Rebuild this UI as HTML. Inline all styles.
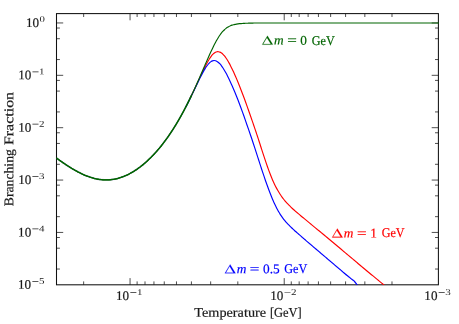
<!DOCTYPE html>
<html><head><meta charset="utf-8"><style>
html,body{margin:0;padding:0;background:#fff;}
svg{display:block;}
text{font-family:"Liberation Serif",serif;}
.t{font-size:13.1px;fill:#1a1a1a;stroke:#1a1a1a;stroke-width:0.2px;}
.s{font-size:8.8px;fill:#1a1a1a;}
.l{font-size:13.3px;stroke-width:0.2px;}
</style></head><body>
<svg width="459" height="324" viewBox="0 0 459 324">
<rect width="459" height="324" fill="#fff"/>
<defs><clipPath id="cp"><rect x="55.90" y="13.00" width="383.20" height="272.10"/></clipPath></defs>
<path d="M130.06 284.80v-6.70 M130.06 13.60v6.70 M284.23 284.80v-6.70 M284.23 13.60v6.70 M83.65 284.80v-3.40 M83.65 13.60v3.40 M237.82 284.80v-3.40 M237.82 13.60v3.40 M210.67 284.80v-3.40 M210.67 13.60v3.40 M191.41 284.80v-3.40 M191.41 13.60v3.40 M176.47 284.80v-3.40 M176.47 13.60v3.40 M164.26 284.80v-3.40 M164.26 13.60v3.40 M153.94 284.80v-3.40 M153.94 13.60v3.40 M145.00 284.80v-3.40 M145.00 13.60v3.40 M137.11 284.80v-3.40 M137.11 13.60v3.40 M391.99 284.80v-3.40 M391.99 13.60v3.40 M364.84 284.80v-3.40 M364.84 13.60v3.40 M345.58 284.80v-3.40 M345.58 13.60v3.40 M330.64 284.80v-3.40 M330.64 13.60v3.40 M318.43 284.80v-3.40 M318.43 13.60v3.40 M308.11 284.80v-3.40 M308.11 13.60v3.40 M299.17 284.80v-3.40 M299.17 13.60v3.40 M291.28 284.80v-3.40 M291.28 13.60v3.40 M56.50 22.95h6.70 M438.40 22.95h-6.70 M56.50 75.32h6.70 M438.40 75.32h-6.70 M56.50 127.69h6.70 M438.40 127.69h-6.70 M56.50 180.06h6.70 M438.40 180.06h-6.70 M56.50 232.43h6.70 M438.40 232.43h-6.70 M56.50 59.56h3.40 M438.40 59.56h-3.40 M56.50 38.71h3.40 M438.40 38.71h-3.40 M56.50 28.03h3.40 M438.40 28.03h-3.40 M56.50 111.93h3.40 M438.40 111.93h-3.40 M56.50 91.08h3.40 M438.40 91.08h-3.40 M56.50 80.40h3.40 M438.40 80.40h-3.40 M56.50 164.30h3.40 M438.40 164.30h-3.40 M56.50 143.45h3.40 M438.40 143.45h-3.40 M56.50 132.77h3.40 M438.40 132.77h-3.40 M56.50 216.67h3.40 M438.40 216.67h-3.40 M56.50 195.82h3.40 M438.40 195.82h-3.40 M56.50 185.14h3.40 M438.40 185.14h-3.40 M56.50 269.04h3.40 M438.40 269.04h-3.40 M56.50 248.19h3.40 M438.40 248.19h-3.40 M56.50 237.51h3.40 M438.40 237.51h-3.40" fill="none" stroke="#222" stroke-width="0.8"/>
<rect x="56.50" y="13.60" width="381.90" height="271.20" fill="none" stroke="#111" stroke-width="1.05"/>
<g clip-path="url(#cp)" fill="none" stroke-width="1.15" stroke-linejoin="round">
<path d="M56.50 158.01 C56.75 158.20 57.50 158.75 58.00 159.12 C58.50 159.49 59.00 159.85 59.50 160.21 C60.00 160.57 60.50 160.93 61.00 161.28 C61.50 161.64 62.00 161.99 62.50 162.34 C63.00 162.69 63.50 163.03 64.00 163.37 C64.50 163.72 65.00 164.05 65.50 164.39 C66.00 164.73 66.50 165.06 67.00 165.39 C67.50 165.71 68.00 166.04 68.50 166.36 C69.00 166.68 69.50 167.00 70.00 167.31 C70.50 167.62 71.00 167.93 71.50 168.23 C72.00 168.54 72.50 168.84 73.00 169.13 C73.50 169.43 74.00 169.72 74.50 170.01 C75.00 170.29 75.50 170.58 76.00 170.85 C76.50 171.13 77.00 171.40 77.50 171.67 C78.00 171.94 78.50 172.20 79.00 172.45 C79.50 172.71 80.00 172.96 80.50 173.21 C81.00 173.45 81.50 173.69 82.00 173.93 C82.50 174.16 83.00 174.39 83.50 174.61 C84.00 174.83 84.50 175.05 85.00 175.26 C85.50 175.47 86.00 175.67 86.50 175.87 C87.00 176.07 87.50 176.26 88.00 176.45 C88.50 176.63 89.00 176.81 89.50 176.98 C90.00 177.15 90.50 177.31 91.00 177.47 C91.50 177.63 92.00 177.78 92.50 177.92 C93.00 178.06 93.50 178.20 94.00 178.33 C94.50 178.46 95.00 178.58 95.50 178.69 C96.00 178.81 96.50 178.91 97.00 179.01 C97.50 179.11 98.00 179.20 98.50 179.28 C99.00 179.36 99.50 179.44 100.00 179.51 C100.50 179.57 101.00 179.63 101.50 179.68 C102.00 179.73 102.50 179.78 103.00 179.81 C103.50 179.85 104.00 179.87 104.50 179.89 C105.00 179.91 105.50 179.92 106.00 179.92 C106.50 179.92 107.00 179.92 107.50 179.90 C108.00 179.89 108.50 179.86 109.00 179.83 C109.50 179.80 110.00 179.76 110.50 179.71 C111.00 179.66 111.50 179.60 112.00 179.54 C112.50 179.47 113.00 179.40 113.50 179.32 C114.00 179.23 114.50 179.14 115.00 179.04 C115.50 178.94 116.00 178.83 116.50 178.72 C117.00 178.60 117.50 178.48 118.00 178.34 C118.50 178.21 119.00 178.07 119.50 177.91 C120.00 177.76 120.50 177.60 121.00 177.44 C121.50 177.27 122.00 177.09 122.50 176.91 C123.00 176.72 123.50 176.53 124.00 176.33 C124.50 176.13 125.00 175.92 125.50 175.70 C126.00 175.48 126.50 175.26 127.00 175.02 C127.50 174.79 128.00 174.54 128.50 174.29 C129.00 174.04 129.50 173.78 130.00 173.51 C130.50 173.24 131.00 172.97 131.50 172.68 C132.00 172.40 132.50 172.10 133.00 171.80 C133.50 171.50 134.00 171.19 134.50 170.87 C135.00 170.56 135.50 170.23 136.00 169.90 C136.50 169.56 137.00 169.22 137.50 168.87 C138.00 168.52 138.50 168.16 139.00 167.79 C139.50 167.42 140.00 167.05 140.50 166.66 C141.00 166.28 141.50 165.89 142.00 165.49 C142.50 165.09 143.00 164.68 143.50 164.26 C144.00 163.84 144.50 163.42 145.00 162.99 C145.50 162.55 146.00 162.11 146.50 161.66 C147.00 161.21 147.50 160.75 148.00 160.28 C148.50 159.81 149.00 159.34 149.50 158.85 C150.00 158.37 150.50 157.87 151.00 157.37 C151.50 156.87 152.00 156.36 152.50 155.84 C153.00 155.32 153.50 154.79 154.00 154.26 C154.50 153.72 155.00 153.17 155.50 152.62 C156.00 152.06 156.50 151.50 157.00 150.93 C157.50 150.35 158.00 149.77 158.50 149.18 C159.00 148.59 159.50 147.99 160.00 147.38 C160.50 146.77 161.00 146.15 161.50 145.52 C162.00 144.90 162.50 144.26 163.00 143.61 C163.50 142.96 164.00 142.31 164.50 141.64 C165.00 140.97 165.50 140.30 166.00 139.61 C166.50 138.93 167.00 138.23 167.50 137.52 C168.00 136.82 168.50 136.10 169.00 135.38 C169.50 134.65 170.00 133.91 170.50 133.17 C171.00 132.42 171.50 131.66 172.00 130.90 C172.50 130.13 173.00 129.35 173.50 128.56 C174.00 127.77 174.50 126.98 175.00 126.17 C175.50 125.36 176.00 124.54 176.50 123.70 C177.00 122.87 177.50 122.03 178.00 121.18 C178.50 120.32 179.00 119.46 179.50 118.58 C180.00 117.71 180.50 116.82 181.00 115.92 C181.50 115.03 182.00 114.12 182.50 113.20 C183.00 112.28 183.50 111.35 184.00 110.40 C184.50 109.46 185.00 108.51 185.50 107.54 C186.00 106.58 186.50 105.60 187.00 104.61 C187.50 103.62 188.00 102.62 188.50 101.61 C189.00 100.60 189.50 99.58 190.00 98.55 C190.50 97.52 191.25 95.94 191.50 95.42" stroke="#7a5ac8" stroke-opacity="0.3" stroke-width="1.9"/>
<path d="M190.00 98.56 C190.25 98.04 191.00 96.50 191.50 95.46 C192.00 94.42 192.50 93.37 193.00 92.32 C193.50 91.26 194.00 90.19 194.50 89.12 C195.00 88.05 195.50 86.97 196.00 85.89 C196.50 84.81 197.00 83.71 197.50 82.63 C198.00 81.55 198.50 80.48 199.00 79.41 C199.50 78.33 200.00 77.27 200.50 76.20 C201.00 75.14 201.50 74.08 202.00 73.03 C202.50 71.98 203.00 70.94 203.50 69.91 C204.00 68.88 204.50 67.87 205.00 66.88 C205.50 65.89 206.00 64.92 206.50 63.98 C207.00 63.04 207.50 62.13 208.00 61.26 C208.50 60.39 209.00 59.54 209.50 58.75 C210.00 57.96 210.50 57.22 211.00 56.54 C211.50 55.86 212.00 55.23 212.50 54.68 C213.00 54.13 213.50 53.64 214.00 53.24 C214.50 52.83 215.00 52.50 215.50 52.25 C216.00 52.00 216.50 51.84 217.00 51.75 C217.50 51.66 218.00 51.66 218.50 51.72 C219.00 51.78 219.50 51.91 220.00 52.13 C220.50 52.34 221.00 52.64 221.50 53.00 C222.00 53.36 222.50 53.80 223.00 54.30 C223.50 54.80 224.00 55.37 224.50 55.98 C225.00 56.60 225.50 57.28 226.00 58.01 C226.50 58.73 227.00 59.51 227.50 60.32 C228.00 61.14 228.50 62.00 229.00 62.89 C229.50 63.78 230.00 64.71 230.50 65.68 C231.00 66.64 231.50 67.64 232.00 68.66 C232.50 69.69 233.00 70.75 233.50 71.83 C234.00 72.91 234.50 74.02 235.00 75.16 C235.50 76.29 236.00 77.46 236.50 78.64 C237.00 79.83 237.50 81.04 238.00 82.28 C238.50 83.51 239.00 84.77 239.51 86.04 C240.02 87.31 240.54 88.61 241.05 89.92 C241.56 91.24 242.08 92.57 242.59 93.93 C243.10 95.29 243.62 96.67 244.13 98.07 C244.64 99.46 245.16 100.87 245.67 102.30 C246.19 103.73 246.70 105.17 247.22 106.63 C247.73 108.09 248.25 109.56 248.77 111.05 C249.29 112.53 249.83 114.03 250.36 115.54 C250.89 117.05 251.42 118.57 251.95 120.10 C252.48 121.63 253.01 123.18 253.54 124.72 C254.07 126.27 254.60 127.83 255.13 129.39 C255.66 130.95 256.20 132.52 256.72 134.09 C257.25 135.66 257.79 137.24 258.30 138.81 C258.81 140.38 259.30 141.96 259.80 143.53 C260.30 145.10 260.80 146.66 261.30 148.22 C261.80 149.77 262.30 151.33 262.80 152.86 C263.30 154.39 263.80 155.92 264.30 157.42 C264.80 158.93 265.30 160.42 265.80 161.88 C266.30 163.34 266.80 164.78 267.30 166.19 C267.80 167.60 268.29 168.99 268.78 170.33 C269.28 171.68 269.78 173.00 270.27 174.27 C270.77 175.55 271.26 176.79 271.76 177.99 C272.25 179.18 272.75 180.34 273.24 181.45 C273.74 182.57 274.24 183.64 274.73 184.67 C275.23 185.69 275.73 186.68 276.22 187.62 C276.72 188.56 277.22 189.46 277.71 190.33 C278.21 191.19 278.71 192.01 279.20 192.79 C279.69 193.58 280.18 194.33 280.65 195.05 C281.13 195.77 281.59 196.45 282.06 197.11 C282.54 197.77 283.01 198.40 283.48 199.01 C283.95 199.62 284.43 200.20 284.90 200.77 C285.38 201.33 285.86 201.88 286.33 202.41 C286.81 202.94 287.29 203.45 287.76 203.96 C288.24 204.46 288.72 204.95 289.20 205.43 C289.68 205.91 290.16 206.38 290.64 206.85 C291.12 207.31 291.60 207.77 292.08 208.22 C292.56 208.67 293.03 209.11 293.52 209.55 C294.01 209.99 294.50 210.43 295.00 210.86 C295.50 211.29 296.00 211.72 296.50 212.15 C297.00 212.57 297.50 213.00 298.00 213.42 C298.50 213.84 299.00 214.26 299.50 214.68 C300.00 215.10 300.50 215.52 301.00 215.94 C301.50 216.35 302.00 216.77 302.50 217.19 C303.00 217.60 303.50 218.02 304.00 218.43 C304.50 218.85 305.00 219.26 305.50 219.67 C306.00 220.09 306.50 220.50 307.00 220.91 C307.50 221.33 308.00 221.74 308.50 222.15 C309.00 222.57 309.50 222.98 310.00 223.39 C310.50 223.80 311.00 224.22 311.50 224.63 C312.00 225.04 312.50 225.45 313.00 225.87 C313.50 226.28 314.00 226.69 314.50 227.10 C315.00 227.52 315.50 227.93 316.00 228.34 C316.50 228.75 317.00 229.17 317.50 229.58 C318.00 229.99 318.50 230.40 319.00 230.81 C319.50 231.23 320.00 231.64 320.50 232.05 C321.00 232.46 321.50 232.88 322.00 233.29 C322.50 233.70 323.00 234.11 323.50 234.52 C324.00 234.94 324.50 235.35 325.00 235.76 C325.50 236.18 326.00 236.60 326.50 237.02 C327.00 237.43 327.50 237.85 328.00 238.27 C328.50 238.69 329.00 239.11 329.50 239.53 C330.00 239.94 330.50 240.36 331.00 240.78 C331.50 241.20 332.00 241.62 332.50 242.03 C333.00 242.45 333.50 242.87 334.00 243.29 C334.50 243.71 335.00 244.13 335.50 244.54 C336.00 244.96 336.50 245.38 337.00 245.80 C337.50 246.22 338.00 246.64 338.50 247.05 C339.00 247.47 339.50 247.89 340.00 248.31 C340.50 248.73 341.00 249.15 341.50 249.56 C342.00 249.98 342.50 250.40 343.00 250.82 C343.50 251.24 344.00 251.65 344.50 252.07 C345.00 252.49 345.50 252.91 346.00 253.33 C346.50 253.75 347.00 254.16 347.50 254.58 C348.00 255.00 348.50 255.42 349.00 255.84 C349.50 256.26 350.00 256.67 350.50 257.09 C351.00 257.51 351.50 257.93 352.00 258.35 C352.50 258.76 353.00 259.18 353.50 259.60 C354.00 260.02 354.50 260.45 355.00 260.87 C355.50 261.30 356.00 261.73 356.50 262.16 C357.00 262.59 357.50 263.01 358.00 263.44 C358.50 263.87 359.00 264.30 359.50 264.73 C360.00 265.15 360.50 265.58 361.00 266.01 C361.50 266.43 362.00 266.86 362.50 267.28 C363.00 267.69 363.50 268.10 364.00 268.51 C364.50 268.93 365.00 269.34 365.50 269.75 C366.00 270.16 366.50 270.57 367.00 270.99 C367.50 271.40 368.00 271.81 368.50 272.22 C369.00 272.64 369.50 273.05 370.00 273.46 C370.50 273.87 371.00 274.28 371.50 274.70 C372.00 275.11 372.50 275.52 373.00 275.93 C373.50 276.35 374.00 276.76 374.50 277.17 C375.00 277.58 375.50 277.99 376.00 278.41 C376.50 278.82 377.00 279.23 377.50 279.64 C378.00 280.05 378.50 280.47 379.00 280.88 C379.50 281.29 380.00 281.70 380.50 282.12 C381.00 282.53 381.50 282.94 382.00 283.35 C382.50 283.76 383.09 284.25 383.50 284.59 C383.91 284.93 384.12 285.20 384.48 285.40 C384.85 285.60 385.48 285.73 385.68 285.80" stroke="#ff0000"/>
<path d="M185.50 107.55 C185.75 107.06 186.50 105.62 187.00 104.64 C187.50 103.67 188.00 102.68 188.50 101.69 C189.00 100.69 189.50 99.69 190.00 98.68 C190.50 97.67 191.00 96.65 191.50 95.62 C192.00 94.60 192.50 93.56 193.00 92.53 C193.50 91.50 194.00 90.45 194.50 89.41 C195.00 88.37 195.50 87.33 196.00 86.29 C196.50 85.25 197.00 84.20 197.50 83.17 C198.00 82.14 198.50 81.11 199.00 80.09 C199.50 79.07 200.00 78.06 200.50 77.08 C201.00 76.09 201.50 75.11 202.00 74.17 C202.50 73.22 203.00 72.29 203.50 71.40 C204.00 70.52 204.50 69.65 205.00 68.84 C205.50 68.02 206.00 67.24 206.50 66.52 C207.00 65.80 207.50 65.12 208.00 64.51 C208.50 63.90 209.00 63.34 209.50 62.86 C210.00 62.38 210.50 61.96 211.00 61.63 C211.50 61.29 212.00 61.03 212.50 60.85 C213.00 60.67 213.50 60.57 214.00 60.55 C214.50 60.53 215.00 60.60 215.50 60.74 C216.00 60.88 216.50 61.10 217.00 61.40 C217.50 61.69 218.00 62.06 218.50 62.49 C219.00 62.93 219.50 63.43 220.00 63.99 C220.50 64.55 221.00 65.18 221.50 65.85 C222.00 66.52 222.50 67.25 223.00 68.01 C223.50 68.78 224.00 69.59 224.50 70.44 C225.00 71.29 225.50 72.18 226.00 73.10 C226.50 74.02 227.00 74.98 227.50 75.96 C228.00 76.95 228.50 77.96 229.00 79.00 C229.50 80.04 230.00 81.11 230.50 82.19 C231.00 83.28 231.50 84.39 232.00 85.53 C232.50 86.66 233.00 87.82 233.50 88.99 C234.00 90.17 234.50 91.36 235.00 92.58 C235.50 93.79 236.00 95.02 236.50 96.27 C237.00 97.53 237.50 98.80 238.00 100.08 C238.50 101.37 239.00 102.67 239.50 103.99 C240.00 105.31 240.50 106.65 241.00 108.00 C241.50 109.36 242.00 110.73 242.50 112.11 C243.00 113.50 243.50 114.90 244.00 116.31 C244.50 117.73 245.00 119.16 245.50 120.60 C246.00 122.05 246.49 123.51 247.00 124.98 C247.51 126.45 248.04 127.93 248.56 129.43 C249.08 130.93 249.61 132.44 250.13 133.96 C250.66 135.48 251.19 137.01 251.70 138.55 C252.22 140.10 252.73 141.65 253.24 143.21 C253.75 144.77 254.26 146.34 254.77 147.91 C255.28 149.48 255.79 151.06 256.30 152.64 C256.82 154.22 257.33 155.81 257.84 157.40 C258.35 158.98 258.86 160.57 259.37 162.15 C259.88 163.73 260.40 165.31 260.91 166.88 C261.42 168.45 261.94 170.02 262.45 171.57 C262.96 173.12 263.48 174.66 263.99 176.18 C264.50 177.70 265.02 179.21 265.53 180.69 C266.04 182.16 266.56 183.62 267.07 185.05 C267.58 186.48 268.10 187.88 268.61 189.25 C269.12 190.61 269.64 191.95 270.14 193.24 C270.64 194.53 271.13 195.79 271.62 197.01 C272.11 198.22 272.59 199.39 273.08 200.52 C273.57 201.65 274.06 202.74 274.55 203.78 C275.03 204.83 275.53 205.83 276.01 206.78 C276.49 207.74 276.96 208.65 277.43 209.53 C277.90 210.40 278.36 211.24 278.82 212.03 C279.29 212.83 279.76 213.59 280.22 214.32 C280.69 215.05 281.16 215.75 281.63 216.42 C282.09 217.09 282.55 217.73 283.01 218.35 C283.48 218.97 283.94 219.56 284.41 220.14 C284.87 220.72 285.34 221.27 285.81 221.81 C286.28 222.35 286.76 222.88 287.24 223.39 C287.72 223.91 288.20 224.41 288.68 224.90 C289.16 225.39 289.64 225.87 290.12 226.35 C290.60 226.82 291.08 227.29 291.56 227.75 C292.05 228.21 292.54 228.67 293.03 229.12 C293.52 229.57 294.01 230.02 294.50 230.46 C294.99 230.91 295.48 231.35 295.97 231.78 C296.46 232.22 296.95 232.66 297.44 233.09 C297.93 233.53 298.43 233.96 298.92 234.39 C299.41 234.83 299.90 235.26 300.39 235.69 C300.88 236.12 301.37 236.55 301.86 236.97 C302.35 237.40 302.85 237.83 303.34 238.26 C303.83 238.69 304.32 239.11 304.81 239.54 C305.30 239.97 305.80 240.39 306.30 240.82 C306.80 241.24 307.30 241.67 307.80 242.10 C308.30 242.52 308.80 242.95 309.30 243.37 C309.80 243.80 310.30 244.22 310.80 244.65 C311.30 245.08 311.80 245.50 312.30 245.93 C312.80 246.35 313.30 246.78 313.80 247.20 C314.30 247.63 314.80 248.05 315.30 248.48 C315.80 248.90 316.30 249.33 316.80 249.76 C317.30 250.18 317.80 250.61 318.30 251.03 C318.80 251.46 319.30 251.88 319.80 252.31 C320.30 252.73 320.80 253.16 321.30 253.58 C321.80 254.01 322.30 254.43 322.80 254.86 C323.30 255.28 323.80 255.71 324.30 256.13 C324.80 256.56 325.30 256.99 325.80 257.41 C326.30 257.84 326.80 258.26 327.30 258.69 C327.80 259.11 328.30 259.54 328.80 259.96 C329.30 260.39 329.80 260.81 330.30 261.24 C330.80 261.66 331.30 262.09 331.80 262.51 C332.30 262.94 332.80 263.36 333.30 263.79 C333.80 264.22 334.30 264.64 334.80 265.07 C335.30 265.49 335.80 265.92 336.30 266.34 C336.80 266.77 337.30 267.19 337.80 267.62 C338.30 268.04 338.80 268.47 339.30 268.89 C339.80 269.32 340.30 269.74 340.80 270.17 C341.30 270.59 341.80 271.02 342.30 271.45 C342.80 271.87 343.30 272.30 343.80 272.72 C344.30 273.15 344.80 273.58 345.30 274.00 C345.80 274.42 346.30 274.83 346.80 275.23 C347.30 275.64 347.80 276.03 348.30 276.43 C348.80 276.83 349.30 277.23 349.80 277.63 C350.30 278.03 350.80 278.44 351.30 278.84 C351.80 279.24 352.30 279.63 352.80 280.04 C353.30 280.44 353.58 280.46 354.30 281.25 C355.02 282.05 356.51 284.04 357.10 284.80 C357.69 285.56 357.73 285.63 357.85 285.80" stroke="#0000ff"/>
<path d="M56.50 158.01 C56.75 158.20 57.50 158.75 58.00 159.12 C58.50 159.49 59.00 159.85 59.50 160.21 C60.00 160.57 60.50 160.93 61.00 161.28 C61.50 161.64 62.00 161.99 62.50 162.34 C63.00 162.69 63.50 163.03 64.00 163.37 C64.50 163.72 65.00 164.05 65.50 164.39 C66.00 164.73 66.50 165.06 67.00 165.39 C67.50 165.71 68.00 166.04 68.50 166.36 C69.00 166.68 69.50 167.00 70.00 167.31 C70.50 167.62 71.00 167.93 71.50 168.23 C72.00 168.54 72.50 168.84 73.00 169.13 C73.50 169.43 74.00 169.72 74.50 170.01 C75.00 170.29 75.50 170.58 76.00 170.85 C76.50 171.13 77.00 171.40 77.50 171.67 C78.00 171.94 78.50 172.20 79.00 172.45 C79.50 172.71 80.00 172.96 80.50 173.21 C81.00 173.45 81.50 173.69 82.00 173.93 C82.50 174.16 83.00 174.39 83.50 174.61 C84.00 174.83 84.50 175.05 85.00 175.26 C85.50 175.47 86.00 175.67 86.50 175.87 C87.00 176.07 87.50 176.26 88.00 176.45 C88.50 176.63 89.00 176.81 89.50 176.98 C90.00 177.15 90.50 177.31 91.00 177.47 C91.50 177.63 92.00 177.78 92.50 177.92 C93.00 178.06 93.50 178.20 94.00 178.33 C94.50 178.46 95.00 178.58 95.50 178.69 C96.00 178.81 96.50 178.91 97.00 179.01 C97.50 179.11 98.00 179.20 98.50 179.28 C99.00 179.36 99.50 179.44 100.00 179.51 C100.50 179.57 101.00 179.63 101.50 179.68 C102.00 179.73 102.50 179.78 103.00 179.81 C103.50 179.85 104.00 179.87 104.50 179.89 C105.00 179.91 105.50 179.92 106.00 179.92 C106.50 179.92 107.00 179.92 107.50 179.90 C108.00 179.89 108.50 179.86 109.00 179.83 C109.50 179.80 110.00 179.76 110.50 179.71 C111.00 179.66 111.50 179.60 112.00 179.54 C112.50 179.47 113.00 179.40 113.50 179.32 C114.00 179.23 114.50 179.14 115.00 179.04 C115.50 178.94 116.00 178.83 116.50 178.72 C117.00 178.60 117.50 178.48 118.00 178.34 C118.50 178.21 119.00 178.07 119.50 177.91 C120.00 177.76 120.50 177.60 121.00 177.44 C121.50 177.27 122.00 177.09 122.50 176.91 C123.00 176.72 123.50 176.53 124.00 176.33 C124.50 176.13 125.00 175.92 125.50 175.70 C126.00 175.48 126.50 175.26 127.00 175.02 C127.50 174.79 128.00 174.54 128.50 174.29 C129.00 174.04 129.50 173.78 130.00 173.51 C130.50 173.24 131.00 172.97 131.50 172.68 C132.00 172.40 132.50 172.10 133.00 171.80 C133.50 171.50 134.00 171.19 134.50 170.87 C135.00 170.56 135.50 170.23 136.00 169.90 C136.50 169.56 137.00 169.22 137.50 168.87 C138.00 168.52 138.50 168.16 139.00 167.79 C139.50 167.42 140.00 167.05 140.50 166.66 C141.00 166.28 141.50 165.89 142.00 165.49 C142.50 165.09 143.00 164.68 143.50 164.26 C144.00 163.84 144.50 163.42 145.00 162.99 C145.50 162.55 146.00 162.11 146.50 161.66 C147.00 161.21 147.50 160.75 148.00 160.28 C148.50 159.81 149.00 159.34 149.50 158.85 C150.00 158.37 150.50 157.87 151.00 157.37 C151.50 156.87 152.00 156.36 152.50 155.84 C153.00 155.32 153.50 154.79 154.00 154.26 C154.50 153.72 155.00 153.17 155.50 152.62 C156.00 152.06 156.50 151.50 157.00 150.93 C157.50 150.35 158.00 149.77 158.50 149.18 C159.00 148.59 159.50 147.99 160.00 147.38 C160.50 146.77 161.00 146.15 161.50 145.52 C162.00 144.90 162.50 144.26 163.00 143.61 C163.50 142.96 164.00 142.31 164.50 141.64 C165.00 140.97 165.50 140.30 166.00 139.61 C166.50 138.93 167.00 138.23 167.50 137.52 C168.00 136.82 168.50 136.10 169.00 135.38 C169.50 134.65 170.00 133.91 170.50 133.17 C171.00 132.42 171.50 131.66 172.00 130.90 C172.50 130.13 173.00 129.35 173.50 128.56 C174.00 127.77 174.50 126.98 175.00 126.17 C175.50 125.36 176.00 124.54 176.50 123.70 C177.00 122.87 177.50 122.03 178.00 121.18 C178.50 120.32 179.00 119.46 179.50 118.58 C180.00 117.71 180.50 116.82 181.00 115.92 C181.50 115.03 182.00 114.12 182.50 113.20 C183.00 112.28 183.50 111.35 184.00 110.40 C184.50 109.46 185.00 108.51 185.50 107.54 C186.00 106.58 186.50 105.60 187.00 104.61 C187.50 103.62 188.00 102.62 188.50 101.61 C189.00 100.60 189.50 99.58 190.00 98.55 C190.50 97.52 191.25 95.94 191.50 95.42" stroke="#006400" stroke-width="1.35"/>
<path d="M56.50 158.01 C56.75 158.20 57.50 158.75 58.00 159.12 C58.50 159.49 59.00 159.85 59.50 160.21 C60.00 160.57 60.50 160.93 61.00 161.28 C61.50 161.64 62.00 161.99 62.50 162.34 C63.00 162.69 63.50 163.03 64.00 163.37 C64.50 163.72 65.00 164.05 65.50 164.39 C66.00 164.73 66.50 165.06 67.00 165.39 C67.50 165.71 68.00 166.04 68.50 166.36 C69.00 166.68 69.50 167.00 70.00 167.31 C70.50 167.62 71.00 167.93 71.50 168.23 C72.00 168.54 72.50 168.84 73.00 169.13 C73.50 169.43 74.00 169.72 74.50 170.01 C75.00 170.29 75.50 170.58 76.00 170.85 C76.50 171.13 77.00 171.40 77.50 171.67 C78.00 171.94 78.50 172.20 79.00 172.45 C79.50 172.71 80.00 172.96 80.50 173.21 C81.00 173.45 81.50 173.69 82.00 173.93 C82.50 174.16 83.00 174.39 83.50 174.61 C84.00 174.83 84.50 175.05 85.00 175.26 C85.50 175.47 86.00 175.67 86.50 175.87 C87.00 176.07 87.50 176.26 88.00 176.45 C88.50 176.63 89.00 176.81 89.50 176.98 C90.00 177.15 90.50 177.31 91.00 177.47 C91.50 177.63 92.00 177.78 92.50 177.92 C93.00 178.06 93.50 178.20 94.00 178.33 C94.50 178.46 95.00 178.58 95.50 178.69 C96.00 178.81 96.50 178.91 97.00 179.01 C97.50 179.11 98.00 179.20 98.50 179.28 C99.00 179.36 99.50 179.44 100.00 179.51 C100.50 179.57 101.00 179.63 101.50 179.68 C102.00 179.73 102.50 179.78 103.00 179.81 C103.50 179.85 104.00 179.87 104.50 179.89 C105.00 179.91 105.50 179.92 106.00 179.92 C106.50 179.92 107.00 179.92 107.50 179.90 C108.00 179.89 108.50 179.86 109.00 179.83 C109.50 179.80 110.00 179.76 110.50 179.71 C111.00 179.66 111.50 179.60 112.00 179.54 C112.50 179.47 113.00 179.40 113.50 179.32 C114.00 179.23 114.50 179.14 115.00 179.04 C115.50 178.94 116.00 178.83 116.50 178.72 C117.00 178.60 117.50 178.48 118.00 178.34 C118.50 178.21 119.00 178.07 119.50 177.91 C120.00 177.76 120.50 177.60 121.00 177.44 C121.50 177.27 122.00 177.09 122.50 176.91 C123.00 176.72 123.50 176.53 124.00 176.33 C124.50 176.13 125.00 175.92 125.50 175.70 C126.00 175.48 126.50 175.26 127.00 175.02 C127.50 174.79 128.00 174.54 128.50 174.29 C129.00 174.04 129.50 173.78 130.00 173.51 C130.50 173.24 131.00 172.97 131.50 172.68 C132.00 172.40 132.50 172.10 133.00 171.80 C133.50 171.50 134.00 171.19 134.50 170.87 C135.00 170.56 135.50 170.23 136.00 169.90 C136.50 169.56 137.00 169.22 137.50 168.87 C138.00 168.52 138.50 168.16 139.00 167.79 C139.50 167.42 140.00 167.05 140.50 166.66 C141.00 166.28 141.50 165.89 142.00 165.49 C142.50 165.09 143.00 164.68 143.50 164.26 C144.00 163.84 144.50 163.42 145.00 162.99 C145.50 162.55 146.00 162.11 146.50 161.66 C147.00 161.21 147.50 160.75 148.00 160.28 C148.50 159.81 149.00 159.34 149.50 158.85 C150.00 158.37 150.50 157.87 151.00 157.37 C151.50 156.87 152.00 156.36 152.50 155.84 C153.00 155.32 153.50 154.79 154.00 154.26 C154.50 153.72 155.00 153.17 155.50 152.62 C156.00 152.06 156.50 151.50 157.00 150.93 C157.50 150.35 158.00 149.77 158.50 149.18 C159.00 148.59 159.50 147.99 160.00 147.38 C160.50 146.77 161.00 146.15 161.50 145.52 C162.00 144.90 162.50 144.26 163.00 143.61 C163.50 142.96 164.00 142.31 164.50 141.64 C165.00 140.97 165.50 140.30 166.00 139.61 C166.50 138.93 167.00 138.23 167.50 137.52 C168.00 136.82 168.50 136.10 169.00 135.38 C169.50 134.65 170.00 133.91 170.50 133.17 C171.00 132.42 171.50 131.66 172.00 130.90 C172.50 130.13 173.00 129.35 173.50 128.56 C174.00 127.77 174.50 126.98 175.00 126.17 C175.50 125.36 176.00 124.54 176.50 123.70 C177.00 122.87 177.50 122.03 178.00 121.18 C178.50 120.32 179.00 119.46 179.50 118.58 C180.00 117.71 180.50 116.82 181.00 115.92 C181.50 115.03 182.00 114.12 182.50 113.20 C183.00 112.28 183.50 111.35 184.00 110.40 C184.50 109.46 185.00 108.51 185.50 107.54 C186.00 106.58 186.50 105.60 187.00 104.61 C187.50 103.62 188.00 102.62 188.50 101.61 C189.00 100.60 189.50 99.58 190.00 98.55 C190.50 97.52 191.00 96.47 191.50 95.42 C192.00 94.37 192.50 93.30 193.00 92.23 C193.50 91.15 194.00 90.07 194.50 88.97 C195.00 87.88 195.50 86.78 196.00 85.66 C196.50 84.55 197.00 83.43 197.50 82.30 C198.00 81.17 198.50 80.03 199.00 78.89 C199.50 77.75 200.00 76.60 200.50 75.45 C201.00 74.31 201.50 73.16 202.00 72.01 C202.50 70.86 203.00 69.70 203.50 68.55 C204.00 67.40 204.50 66.24 205.00 65.08 C205.50 63.93 206.00 62.78 206.50 61.63 C207.00 60.49 207.50 59.34 208.00 58.21 C208.50 57.08 209.00 55.96 209.50 54.85 C210.00 53.74 210.50 52.64 211.00 51.56 C211.50 50.48 212.00 49.42 212.50 48.38 C213.00 47.34 213.50 46.31 214.00 45.31 C214.50 44.32 215.00 43.35 215.50 42.42 C216.00 41.48 216.50 40.58 217.00 39.71 C217.50 38.85 218.00 38.02 218.50 37.23 C219.00 36.44 219.50 35.69 220.00 34.98 C220.50 34.27 221.00 33.60 221.50 32.97 C222.00 32.35 222.50 31.76 223.00 31.22 C223.50 30.68 224.00 30.18 224.50 29.71 C225.00 29.25 225.50 28.82 226.00 28.42 C226.50 28.03 227.00 27.67 227.50 27.34 C228.00 27.01 228.50 26.72 229.00 26.45 C229.50 26.18 230.00 25.95 230.50 25.73 C231.00 25.51 231.50 25.32 232.00 25.15 C232.50 24.98 233.00 24.83 233.50 24.69 C234.00 24.56 234.50 24.44 235.00 24.34 C235.50 24.23 236.00 24.14 236.50 24.06 C237.00 23.98 237.50 23.91 238.00 23.85 C238.50 23.78 239.00 23.73 239.50 23.68 C240.00 23.63 240.50 23.60 241.00 23.56 C241.50 23.52 242.00 23.49 242.50 23.46 C243.00 23.43 243.50 23.39 244.00 23.37 C244.50 23.34 245.00 23.32 245.50 23.29 C246.00 23.27 246.50 23.25 247.00 23.23 C247.50 23.21 248.00 23.20 248.50 23.18 C249.00 23.17 249.50 23.15 250.00 23.14 C250.50 23.12 251.00 23.11 251.50 23.10 C252.00 23.08 252.50 23.07 253.00 23.06 C253.50 23.05 254.00 23.04 254.50 23.03 C255.00 23.02 255.50 23.01 256.00 22.99 C256.50 22.98 257.00 22.97 257.50 22.96 C258.00 22.96 258.50 22.96 259.00 22.95 C259.50 22.95 260.00 22.95 260.50 22.95 C261.00 22.95 261.50 22.95 262.00 22.95 C262.50 22.95 263.00 22.95 263.50 22.95 C264.00 22.95 264.50 22.95 265.00 22.95 C265.50 22.95 266.00 22.95 266.50 22.95 C267.00 22.95 267.50 22.95 268.00 22.95 C268.50 22.95 269.00 22.95 269.50 22.95 C270.00 22.95 270.50 22.95 271.00 22.95 C271.50 22.95 272.00 22.95 272.50 22.95 C273.00 22.95 273.50 22.95 274.00 22.95 C274.50 22.95 275.00 22.95 275.50 22.95 C276.00 22.95 276.50 22.95 277.00 22.95 C277.50 22.95 278.00 22.95 278.50 22.95 C279.00 22.95 279.50 22.95 280.00 22.95 C280.50 22.95 281.00 22.95 281.50 22.95 C282.00 22.95 282.50 22.95 283.00 22.95 C283.50 22.95 284.00 22.95 284.50 22.95 C285.00 22.95 285.50 22.95 286.00 22.95 C286.50 22.95 287.00 22.95 287.50 22.95 C288.00 22.95 288.50 22.95 289.00 22.95 C289.50 22.95 290.00 22.95 290.50 22.95 C291.00 22.95 291.50 22.95 292.00 22.95 C292.50 22.95 293.00 22.95 293.50 22.95 C294.00 22.95 294.50 22.95 295.00 22.95 C295.50 22.95 296.00 22.95 296.50 22.95 C297.00 22.95 297.50 22.95 298.00 22.95 C298.50 22.95 299.00 22.95 299.50 22.95 C300.00 22.95 300.50 22.95 301.00 22.95 C301.50 22.95 302.00 22.95 302.50 22.95 C303.00 22.95 303.50 22.95 304.00 22.95 C304.50 22.95 305.00 22.95 305.50 22.95 C306.00 22.95 306.50 22.95 307.00 22.95 C307.50 22.95 308.00 22.95 308.50 22.95 C309.00 22.95 309.50 22.95 310.00 22.95 C310.50 22.95 311.00 22.95 311.50 22.95 C312.00 22.95 312.50 22.95 313.00 22.95 C313.50 22.95 314.00 22.95 314.50 22.95 C315.00 22.95 315.50 22.95 316.00 22.95 C316.50 22.95 317.00 22.95 317.50 22.95 C318.00 22.95 318.50 22.95 319.00 22.95 C319.50 22.95 320.00 22.95 320.50 22.95 C321.00 22.95 321.50 22.95 322.00 22.95 C322.50 22.95 323.00 22.95 323.50 22.95 C324.00 22.95 324.50 22.95 325.00 22.95 C325.50 22.95 326.00 22.95 326.50 22.95 C327.00 22.95 327.50 22.95 328.00 22.95 C328.50 22.95 329.00 22.95 329.50 22.95 C330.00 22.95 330.50 22.95 331.00 22.95 C331.50 22.95 332.00 22.95 332.50 22.95 C333.00 22.95 333.50 22.95 334.00 22.95 C334.50 22.95 335.00 22.95 335.50 22.95 C336.00 22.95 336.50 22.95 337.00 22.95 C337.50 22.95 338.00 22.95 338.50 22.95 C339.00 22.95 339.50 22.95 340.00 22.95 C340.50 22.95 341.00 22.95 341.50 22.95 C342.00 22.95 342.50 22.95 343.00 22.95 C343.50 22.95 344.00 22.95 344.50 22.95 C345.00 22.95 345.50 22.95 346.00 22.95 C346.50 22.95 347.00 22.95 347.50 22.95 C348.00 22.95 348.50 22.95 349.00 22.95 C349.50 22.95 350.00 22.95 350.50 22.95 C351.00 22.95 351.50 22.95 352.00 22.95 C352.50 22.95 353.00 22.95 353.50 22.95 C354.00 22.95 354.50 22.95 355.00 22.95 C355.50 22.95 356.00 22.95 356.50 22.95 C357.00 22.95 357.50 22.95 358.00 22.95 C358.50 22.95 359.00 22.95 359.50 22.95 C360.00 22.95 360.50 22.95 361.00 22.95 C361.50 22.95 362.00 22.95 362.50 22.95 C363.00 22.95 363.50 22.95 364.00 22.95 C364.50 22.95 365.00 22.95 365.50 22.95 C366.00 22.95 366.50 22.95 367.00 22.95 C367.50 22.95 368.00 22.95 368.50 22.95 C369.00 22.95 369.50 22.95 370.00 22.95 C370.50 22.95 371.00 22.95 371.50 22.95 C372.00 22.95 372.50 22.95 373.00 22.95 C373.50 22.95 374.00 22.95 374.50 22.95 C375.00 22.95 375.50 22.95 376.00 22.95 C376.50 22.95 377.00 22.95 377.50 22.95 C378.00 22.95 378.50 22.95 379.00 22.95 C379.50 22.95 380.00 22.95 380.50 22.95 C381.00 22.95 381.50 22.95 382.00 22.95 C382.50 22.95 383.00 22.95 383.50 22.95 C384.00 22.95 384.50 22.95 385.00 22.95 C385.50 22.95 386.00 22.95 386.50 22.95 C387.00 22.95 387.50 22.95 388.00 22.95 C388.50 22.95 389.00 22.95 389.50 22.95 C390.00 22.95 390.50 22.95 391.00 22.95 C391.50 22.95 392.00 22.95 392.50 22.95 C393.00 22.95 393.50 22.95 394.00 22.95 C394.50 22.95 395.00 22.95 395.50 22.95 C396.00 22.95 396.50 22.95 397.00 22.95 C397.50 22.95 398.00 22.95 398.50 22.95 C399.00 22.95 399.50 22.95 400.00 22.95 C400.50 22.95 401.00 22.95 401.50 22.95 C402.00 22.95 402.50 22.95 403.00 22.95 C403.50 22.95 404.00 22.95 404.50 22.95 C405.00 22.95 405.50 22.95 406.00 22.95 C406.50 22.95 407.00 22.95 407.50 22.95 C408.00 22.95 408.50 22.95 409.00 22.95 C409.50 22.95 410.00 22.95 410.50 22.95 C411.00 22.95 411.50 22.95 412.00 22.95 C412.50 22.95 413.00 22.95 413.50 22.95 C414.00 22.95 414.50 22.95 415.00 22.95 C415.50 22.95 416.00 22.95 416.50 22.95 C417.00 22.95 417.50 22.95 418.00 22.95 C418.50 22.95 419.00 22.95 419.50 22.95 C420.00 22.95 420.50 22.95 421.00 22.95 C421.50 22.95 422.00 22.95 422.50 22.95 C423.00 22.95 423.50 22.95 424.00 22.95 C424.50 22.95 425.00 22.95 425.50 22.95 C426.00 22.95 426.50 22.95 427.00 22.95 C427.50 22.95 428.00 22.95 428.50 22.95 C429.00 22.95 429.50 22.95 430.00 22.95 C430.50 22.95 431.00 22.95 431.50 22.95 C432.00 22.95 432.50 22.95 433.00 22.95 C433.50 22.95 434.00 22.95 434.50 22.95 C435.00 22.95 435.50 22.95 436.00 22.95 C436.50 22.95 437.10 22.95 437.50 22.95 C437.90 22.95 437.92 22.95 438.40 22.95 C438.88 22.95 440.07 22.95 440.40 22.95" stroke="#006400"/>
</g>
</svg>
<svg width="459" height="324" viewBox="0 0 459 324" style="position:absolute;left:0;top:0;will-change:transform">
<g transform="rotate(0.03 230 160)">
<text x="25.85" y="27.05" class="t">10</text><text x="39.50" y="22.05" class="s" textLength="5.4" lengthAdjust="spacingAndGlyphs">0</text>
<text x="18.15" y="79.42" class="t">10</text><rect x="32.40" y="71.59" width="6.1" height="0.66" fill="#222"/><text x="39.00" y="74.42" class="s" textLength="5.5" lengthAdjust="spacingAndGlyphs">1</text>
<text x="18.15" y="131.79" class="t">10</text><rect x="32.40" y="123.96" width="6.1" height="0.66" fill="#222"/><text x="39.00" y="126.79" class="s" textLength="5.5" lengthAdjust="spacingAndGlyphs">2</text>
<text x="18.15" y="184.16" class="t">10</text><rect x="32.40" y="176.33" width="6.1" height="0.66" fill="#222"/><text x="39.00" y="179.16" class="s" textLength="5.5" lengthAdjust="spacingAndGlyphs">3</text>
<text x="18.15" y="236.53" class="t">10</text><rect x="32.40" y="228.70" width="6.1" height="0.66" fill="#222"/><text x="39.00" y="231.53" class="s" textLength="5.5" lengthAdjust="spacingAndGlyphs">4</text>
<text x="18.15" y="288.90" class="t">10</text><rect x="32.40" y="281.07" width="6.1" height="0.66" fill="#222"/><text x="39.00" y="283.90" class="s" textLength="5.5" lengthAdjust="spacingAndGlyphs">5</text>
<text x="116.10" y="300.00" class="t">10</text><rect x="130.36" y="292.17" width="6.1" height="0.66" fill="#222"/><text x="136.96" y="295.00" class="s" textLength="5.5" lengthAdjust="spacingAndGlyphs">1</text>
<text x="270.28" y="300.00" class="t">10</text><rect x="284.53" y="292.17" width="6.1" height="0.66" fill="#222"/><text x="291.13" y="295.00" class="s" textLength="5.5" lengthAdjust="spacingAndGlyphs">2</text>
<text x="424.45" y="300.00" class="t">10</text><rect x="438.70" y="292.17" width="6.1" height="0.66" fill="#222"/><text x="445.30" y="295.00" class="s" textLength="5.5" lengthAdjust="spacingAndGlyphs">3</text>
<text x="194.4" y="316.8" textLength="71.8" lengthAdjust="spacingAndGlyphs" class="t" style="font-size:13.3px">Temperature</text><text x="270.0" y="316.8" textLength="31.8" lengthAdjust="spacingAndGlyphs" class="t" style="font-size:13.3px">[GeV]</text>
<g transform="translate(13.3,206.3) rotate(-90)"><text textLength="57.0" lengthAdjust="spacingAndGlyphs" class="t" style="font-size:13.3px">Branching</text><text x="61.1" textLength="53.2" lengthAdjust="spacingAndGlyphs" class="t" style="font-size:13.3px">Fraction</text></g>
<g fill="#006400" stroke="#006400" class="l"><path transform="translate(262.10,44.60)" fill-rule="evenodd" d="M0 0L5.3 -8.9L10.7 0ZM0.99 -0.65L8.61 -0.65L4.76 -6.99Z"/><text x="273.90" y="44.60" font-style="italic">m</text><text x="287.10" y="44.60" textLength="9.6" lengthAdjust="spacingAndGlyphs">=</text><text x="300.30" y="44.60">0</text><text x="311.70" y="44.60" textLength="23.0" lengthAdjust="spacingAndGlyphs">GeV</text></g>
<g fill="#ff0000" stroke="#ff0000" class="l"><path transform="translate(332.10,237.40)" fill-rule="evenodd" d="M0 0L5.3 -8.9L10.7 0ZM0.99 -0.65L8.61 -0.65L4.76 -6.99Z"/><text x="343.90" y="237.40" font-style="italic">m</text><text x="357.10" y="237.40" textLength="9.6" lengthAdjust="spacingAndGlyphs">=</text><text x="370.30" y="237.40">1</text><text x="381.70" y="237.40" textLength="23.0" lengthAdjust="spacingAndGlyphs">GeV</text></g>
<g fill="#0000ff" stroke="#0000ff" class="l"><path transform="translate(224.90,273.30)" fill-rule="evenodd" d="M0 0L5.3 -8.9L10.7 0ZM0.99 -0.65L8.61 -0.65L4.76 -6.99Z"/><text x="236.70" y="273.30" font-style="italic">m</text><text x="249.90" y="273.30" textLength="9.6" lengthAdjust="spacingAndGlyphs">=</text><text x="263.10" y="273.30">0.5</text><text x="284.30" y="273.30" textLength="23.0" lengthAdjust="spacingAndGlyphs">GeV</text></g>
</g>
</svg>
</body></html>
